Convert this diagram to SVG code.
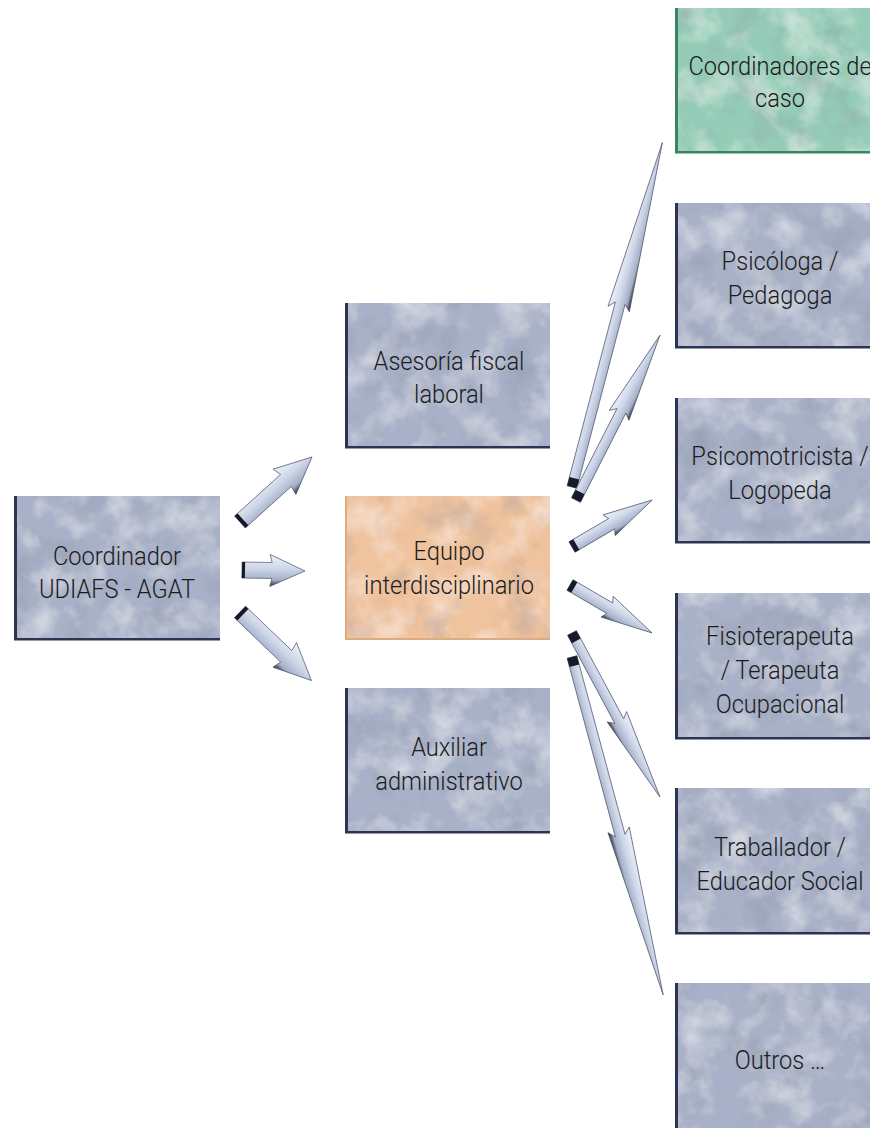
<svg xmlns="http://www.w3.org/2000/svg" width="870" height="1128" viewBox="0 0 870 1128">
<defs>
<style>
.t{font-family:Roboto,"Liberation Sans",sans-serif;font-size:26px;font-weight:300;fill:#1c1c1c;text-anchor:middle}
.blue{fill:#a8b1c7}
.green{fill:#95ccb7}
.orange{fill:#efc39d}
.edgeB{fill:#2c3453}
.edgeG{fill:#3a8463}
.edgeO{fill:#dcab80}
.arw{fill:url(#ag);stroke:#4a5268;stroke-width:0.7;stroke-linejoin:miter}
.cap{fill:#141a28}
</style>
<linearGradient id="ag" x1="0" y1="0" x2="0" y2="1">
<stop offset="0" stop-color="#eef2fa"/>
<stop offset="0.45" stop-color="#cdd6e8"/>
<stop offset="0.8" stop-color="#a4afc7"/>
<stop offset="1" stop-color="#222839"/>
</linearGradient>
<filter id="tex" x="0" y="0" width="1" height="1">
<feTurbulence type="fractalNoise" baseFrequency="0.028" numOctaves="4" seed="7" result="n"/>
<feColorMatrix in="n" type="matrix" values="0 0 0 0 1  0 0 0 0 1  0 0 0 0 1  1.1 0 0 0 -0.5" result="w"/>
<feComposite in="w" in2="SourceGraphic" operator="in" result="wi"/>
<feColorMatrix in="n" type="matrix" values="0 0 0 0 0.25  0 0 0 0 0.27  0 0 0 0 0.35  0 1.0 0 0 -0.5" result="d"/>
<feComposite in="d" in2="SourceGraphic" operator="in" result="di"/>
<feMerge><feMergeNode in="SourceGraphic"/><feMergeNode in="wi"/><feMergeNode in="di"/></feMerge>
</filter>
</defs>
<rect width="870" height="1128" fill="#ffffff"/>

<g id="connectors">
<g transform="translate(240,522) rotate(-42.1)">
<path class="arw" d="M0,-8 L62,-8 L60,-17 L97,0 L60,17 L62,8 L0,8 Z"/>
<rect class="cap" x="0" y="-8" width="4" height="16"/>
</g>
<g transform="translate(242,570) rotate(0.9)">
<path class="arw" d="M0,-8 L30,-8 L28,-16 L63,0 L28,16 L30,8 L0,8 Z"/>
<rect class="cap" x="0" y="-8" width="3" height="16"/>
</g>
<g transform="translate(240,612) rotate(43.8)">
<path class="arw" d="M0,-8 L64,-8 L62,-17 L99,0 L62,17 L64,8 L0,8 Z"/>
<rect class="cap" x="0" y="-8" width="4" height="16"/>
</g>
<g transform="translate(572,487) rotate(-75.3)">
<path class="arw" d="M0,-5 L190,-5 L184,-11 L356,0 L184,11 L190,5 L0,5 Z"/>
<rect class="cap" x="0" y="-5" width="9" height="10"/>
</g>
<g transform="translate(576,500) rotate(-63)">
<path class="arw" d="M0,-5 L100,-5 L95,-11 L185,0 L95,11 L100,5 L0,5 Z"/>
<rect class="cap" x="0" y="-5" width="9" height="10"/>
</g>
<g transform="translate(572,547) rotate(-30.4)">
<path class="arw" d="M0,-6 L46,-6 L43,-12 L93,0 L43,12 L46,6 L0,6 Z"/>
<rect class="cap" x="0" y="-6" width="5" height="12"/>
</g>
<g transform="translate(570,585) rotate(30.3)">
<path class="arw" d="M0,-6 L46,-6 L43,-12 L95,0 L43,12 L46,6 L0,6 Z"/>
<rect class="cap" x="0" y="-6" width="5" height="12"/>
</g>
<g transform="translate(572,633) rotate(61.8)">
<path class="arw" d="M0,-5 L100,-5 L95,-11 L186,0 L95,11 L100,5 L0,5 Z"/>
<rect class="cap" x="0" y="-5" width="9" height="10"/>
</g>
<g transform="translate(572,657) rotate(74.9)">
<path class="arw" d="M0,-5 L185,-5 L179,-11 L350,0 L179,11 L185,5 L0,5 Z"/>
<rect class="cap" x="0" y="-5" width="9" height="10"/>
</g>
</g>

<g id="n-coordinador">
<rect class="blue" x="14" y="496" width="206" height="144" filter="url(#tex)"/>
<rect class="edgeB" x="14" y="496" width="3" height="144"/>
<rect class="edgeB" x="14" y="638" width="206" height="2.5"/>
<g transform="translate(117,0) scale(0.91,1)"><text class="t" x="0" y="565">Coordinador</text><text class="t" x="0" y="598">UDIAFS - AGAT</text></g>
</g>

<g id="n-asesoria">
<rect class="blue" x="345" y="303" width="205" height="145" filter="url(#tex)"/>
<rect class="edgeB" x="345" y="303" width="3" height="145"/>
<rect class="edgeB" x="345" y="446" width="205" height="2.5"/>
<g transform="translate(449,0) scale(0.91,1)"><text class="t" x="0" y="370">Asesoría fiscal</text><text class="t" x="0" y="403">laboral</text></g>
</g>

<g id="n-equipo">
<rect class="orange" x="345" y="496" width="205" height="144" filter="url(#tex)"/>
<rect class="edgeO" x="345" y="496" width="2" height="144"/>
<rect class="edgeO" x="345" y="638" width="205" height="2"/>
<g transform="translate(449,0) scale(0.91,1)"><text class="t" x="0" y="560">Equipo</text><text class="t" x="0" y="594">interdisciplinario</text></g>
</g>

<g id="n-auxiliar">
<rect class="blue" x="345" y="688" width="205" height="145" filter="url(#tex)"/>
<rect class="edgeB" x="345" y="688" width="3" height="145"/>
<rect class="edgeB" x="345" y="831" width="205" height="2.5"/>
<g transform="translate(449,0) scale(0.91,1)"><text class="t" x="0" y="756">Auxiliar</text><text class="t" x="0" y="790">administrativo</text></g>
</g>

<g id="n-coordinadores-caso">
<rect class="green" x="675" y="8" width="210" height="145" filter="url(#tex)"/>
<rect class="edgeG" x="675" y="8" width="3" height="145"/>
<rect class="edgeG" x="675" y="151" width="210" height="2.5"/>
<g transform="translate(780,0) scale(0.91,1)"><text class="t" x="0" y="75">Coordinadores de</text><text class="t" x="0" y="107">caso</text></g>
</g>

<g id="n-psicologa">
<rect class="blue" x="675" y="203" width="210" height="145" filter="url(#tex)"/>
<rect class="edgeB" x="675" y="203" width="3" height="145"/>
<rect class="edgeB" x="675" y="346" width="210" height="2.5"/>
<g transform="translate(780,0) scale(0.91,1)"><text class="t" x="0" y="270">Psicóloga /</text><text class="t" x="0" y="304">Pedagoga</text></g>
</g>

<g id="n-psicomotricista">
<rect class="blue" x="675" y="398" width="210" height="145" filter="url(#tex)"/>
<rect class="edgeB" x="675" y="398" width="3" height="145"/>
<rect class="edgeB" x="675" y="541" width="210" height="2.5"/>
<g transform="translate(780,0) scale(0.91,1)"><text class="t" x="0" y="465">Psicomotricista /</text><text class="t" x="0" y="499">Logopeda</text></g>
</g>

<g id="n-fisioterapeuta">
<rect class="blue" x="675" y="593" width="210" height="146" filter="url(#tex)"/>
<rect class="edgeB" x="675" y="593" width="3" height="146"/>
<rect class="edgeB" x="675" y="737" width="210" height="2.5"/>
<g transform="translate(780,0) scale(0.91,1)"><text class="t" x="0" y="645">Fisioterapeuta</text><text class="t" x="0" y="679">/ Terapeuta</text><text class="t" x="0" y="713">Ocupacional</text></g>
</g>

<g id="n-traballador">
<rect class="blue" x="675" y="788" width="210" height="146" filter="url(#tex)"/>
<rect class="edgeB" x="675" y="788" width="3" height="146"/>
<rect class="edgeB" x="675" y="932" width="210" height="2.5"/>
<g transform="translate(780,0) scale(0.91,1)"><text class="t" x="0" y="856">Traballador /</text><text class="t" x="0" y="890">Educador Social</text></g>
</g>

<g id="n-outros">
<rect class="blue" x="675" y="983" width="210" height="150" filter="url(#tex)"/>
<rect class="edgeB" x="675" y="983" width="3" height="150"/>
<g transform="translate(780,0) scale(0.91,1)"><text class="t" x="0" y="1069">Outros …</text></g>
</g>
</svg>
